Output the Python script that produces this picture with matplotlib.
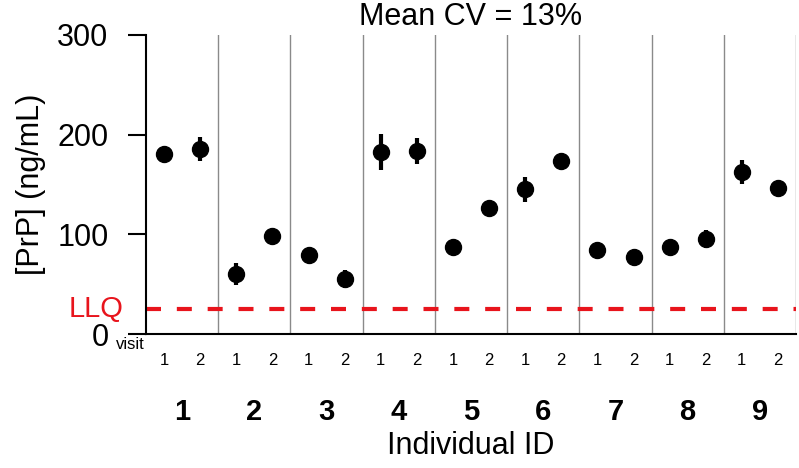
import matplotlib
matplotlib.use("Agg")
import matplotlib.pyplot as plt
import numpy as np

plt.rcParams["font.family"] = ["Liberation Sans", "DejaVu Sans"]

individuals = ["1", "2", "3", "4", "5", "6", "7", "8", "9"]
visit_labels = ["1", "2"]
visit1 = [181, 60, 79, 183, 87, 145, 84, 87, 163]
visit2 = [186, 98, 55, 184, 126, 174, 77, 95, 146]
err1 = [3, 11, 3, 18, 3, 13, 3, 3, 12]
err2 = [12, 3, 9, 13, 3, 3, 3, 9, 3]
llq = 25
title = "Mean CV = 13%"

fig = plt.figure(figsize=(7.99, 4.68), dpi=100)
ax = fig.add_axes([146 / 799, 1 - 334 / 468, 650 / 799, 299 / 468])

n = len(individuals)
x1 = np.arange(n) * 2
x2 = x1 + 1

for xs, ys, es in [(x1, visit1, err1), (x2, visit2, err2)]:
    ax.errorbar(xs, ys, yerr=es, fmt="o", color="black", ms=11.5,
                elinewidth=3, capsize=0, zorder=3)

# separators between individuals
for i in range(n):
    ax.axvline(2 * i + 1.5, color="#8a8a8a", lw=1, zorder=1)

ax.axhline(llq, color="#e8141c", lw=3, dashes=(3.6, 3.8), zorder=2)

ax.set_xlim(-0.5, 2 * n - 0.5)
ax.set_ylim(0, 300)
ax.set_yticks([0, 100, 200, 300])
ax.tick_params(axis="y", labelsize=22, length=13, width=1.5, pad=14)
ax.set_xticks(np.concatenate([x1, x2]))
ax.set_xticklabels(visit_labels[:1] * n + visit_labels[1:] * n)
ax.tick_params(axis="x", labelsize=12, length=0, pad=14)

for s in ["top", "right"]:
    ax.spines[s].set_visible(False)
ax.spines["left"].set_linewidth(1.5)
ax.spines["bottom"].set_linewidth(1.5)

ax.set_ylabel("[PrP] (ng/mL)", fontsize=22, labelpad=8)
ax.text(0.5, 1.06, title, transform=ax.transAxes, fontsize=22,
        ha="center", va="center")

for i, name in enumerate(individuals):
    ax.text(2 * i + 0.5, -0.26, name, transform=ax.get_xaxis_transform(),
            fontsize=21, fontweight="bold", ha="center", va="center")

trans = ax.transAxes
ax.text(-0.002, -0.035, "visit", transform=trans, fontsize=12,
        ha="right", va="center")
ax.text(-0.035, llq / 300, "LLQ", transform=trans, fontsize=21,
        color="#e8141c", ha="right", va="center")
ax.text(0.5, -0.375, "Individual ID", transform=trans, fontsize=22,
        ha="center", va="center")

fig.savefig("out.png", dpi=100)
